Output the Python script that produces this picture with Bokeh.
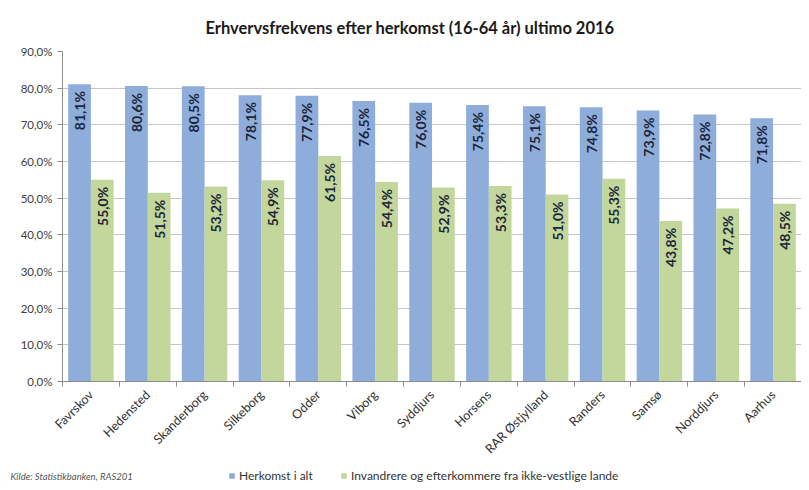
import math
import numpy as np
from bokeh.plotting import figure
from bokeh.layouts import column
from bokeh.models import (Range1d, FixedTicker, Legend, LegendItem, ColumnDataSource, Title, Label)
from bokeh.core.properties import value
from bokeh.embed import file_html
from bokeh.resources import INLINE

categories = ["Favrskov", "Hedensted", "Skanderborg", "Silkeborg", "Odder", "Viborg",
              "Syddjurs", "Horsens", "RAR Østjylland", "Randers", "Samsø", "Norddjurs", "Aarhus"]
herkomst_i_alt = [81.1, 80.6, 80.5, 78.1, 77.9, 76.5, 76.0, 75.4, 75.1, 74.8, 73.9, 72.8, 71.8]
ikke_vestlige = [55.0, 51.5, 53.2, 54.9, 61.5, 54.4, 52.9, 53.3, 51.0, 55.3, 43.8, 47.2, 48.5]
y_ticks = [0, 10, 20, 30, 40, 50, 60, 70, 80, 90]
y_tick_labels = ["0,0%", "10,0%", "20,0%", "30,0%", "40,0%", "50,0%", "60,0%", "70,0%", "80,0%", "90,0%"]
series_names = ["Herkomst i alt", "Invandrere og efterkommere fra ikke-vestlige lande"]
title_text = "Erhvervsfrekvens efter herkomst (16-64 år) ultimo 2016"
source_text = "Kilde: Statistikbanken, RAS201"

FONT = "Lato"
BLUE = "#8fadda"
GREEN = "#c3d69b"
LABEL_COLOR = "#1c263a"
W = 801
H_MAIN = 464
H_FOOT = 18

n = len(categories)
idx = np.arange(n)

def fmt(v):
    return f"{v:.1f}%".replace(".", ",")

src = ColumnDataSource(dict(
    xb=idx + 0.3, xg=idx + 0.7,
    blue=herkomst_i_alt, green=ikke_vestlige,
    lb=[fmt(v) for v in herkomst_i_alt],
    lg=[fmt(v) for v in ikke_vestlige],
))

p = figure(width=W, height=H_MAIN, output_backend="svg", toolbar_location=None,
           x_range=Range1d(0, n), y_range=Range1d(0, 90),
           min_border_left=62, min_border_right=0, min_border_top=51, min_border_bottom=81)
p.outline_line_color = None
p.background_fill_color = "white"
p.border_fill_color = "white"
p.frame_align = False

p.title = Title(text=title_text, align="left", offset=143, text_font=FONT,
                text_font_style="bold", text_font_size="16.5px", text_color="#1a1a1a",
                standoff=28)

rb = p.vbar(x="xb", top="blue", width=0.4, source=src, fill_color=BLUE, line_color=None)
rg = p.vbar(x="xg", top="green", width=0.4, source=src, fill_color=GREEN, line_color=None)

for xcol, ycol, tcol in (("xb", "blue", "lb"), ("xg", "green", "lg")):
    p.text(x=xcol, y=ycol, text=tcol, source=src, angle=math.pi / 2,
           text_align="right", text_baseline="middle", y_offset=7,
           text_font=value(FONT), text_font_style="bold", text_font_size="14px",
           text_color=LABEL_COLOR)

# y axis
p.yaxis.ticker = FixedTicker(ticks=y_ticks)
p.yaxis.major_label_overrides = {t: l for t, l in zip(y_ticks, y_tick_labels)}
p.yaxis.major_label_text_font = FONT
p.yaxis.major_label_text_font_size = "11.5px"
p.yaxis.major_label_text_color = "#404040"
p.yaxis.axis_line_color = "#8c8c8c"
p.yaxis.major_tick_line_color = "#8c8c8c"
p.yaxis.major_tick_out = 5
p.yaxis.major_tick_in = 0
p.yaxis.minor_tick_line_color = None

# x axis
p.xaxis.ticker = FixedTicker(ticks=list(idx + 0.5), minor_ticks=list(range(n + 1)))
p.xaxis.major_label_overrides = {float(i + 0.5): c for i, c in enumerate(categories)}
p.xaxis.major_label_orientation = math.pi / 4
p.xaxis.major_label_text_font = FONT
p.xaxis.major_label_text_font_size = "12.5px"
p.xaxis.major_label_text_color = "#303030"
p.xaxis.axis_line_color = "#8c8c8c"
p.xaxis.major_tick_line_color = None
p.xaxis.minor_tick_line_color = "#8c8c8c"
p.xaxis.minor_tick_out = 5
p.xaxis.minor_tick_in = 0

p.xgrid.grid_line_color = None
p.ygrid.ticker = FixedTicker(ticks=y_ticks)
p.ygrid.grid_line_color = "#c6c6c6"
p.ygrid.grid_line_width = 1

# footer strip with source note and legend
f = figure(width=W, height=H_FOOT, output_backend="svg", toolbar_location=None,
           x_range=Range1d(0, W), y_range=Range1d(0, H_FOOT),
           x_axis_type=None, y_axis_type=None,
           min_border_left=0, min_border_right=0, min_border_top=0, min_border_bottom=0)
f.outline_line_color = None
f.border_fill_color = "white"
f.background_fill_color = "white"
f.grid.visible = False
f.frame_align = False

f.add_layout(Label(x=10, y=6, x_units="screen", y_units="screen", text=source_text,
                   text_align="left", text_baseline="middle", text_font=FONT,
                   text_font_style="italic", text_font_size="9.5px", text_color="#555555"))

# legend proxies (outside the footer's visible range)
lb_r = f.vbar(x=[-10], top=[1], width=1, fill_color=BLUE, line_color=None)
lg_r = f.vbar(x=[-10], top=[1], width=1, fill_color=GREEN, line_color=None)

for r, name, xloc in ((lb_r, series_names[0], 228), (lg_r, series_names[1], 340)):
    lg = Legend(items=[LegendItem(label=name, renderers=[r])], location=(xloc, -1),
                orientation="horizontal", padding=0, margin=0, glyph_width=7, glyph_height=7,
                label_standoff=4, border_line_color=None, background_fill_alpha=0,
                label_text_font=FONT, label_text_font_size="12px", label_text_color="#333333",
                label_height=12)
    f.add_layout(lg, "center")

layout = column(p, f, spacing=0)
open("out.html", "w").write(file_html(layout, INLINE))
